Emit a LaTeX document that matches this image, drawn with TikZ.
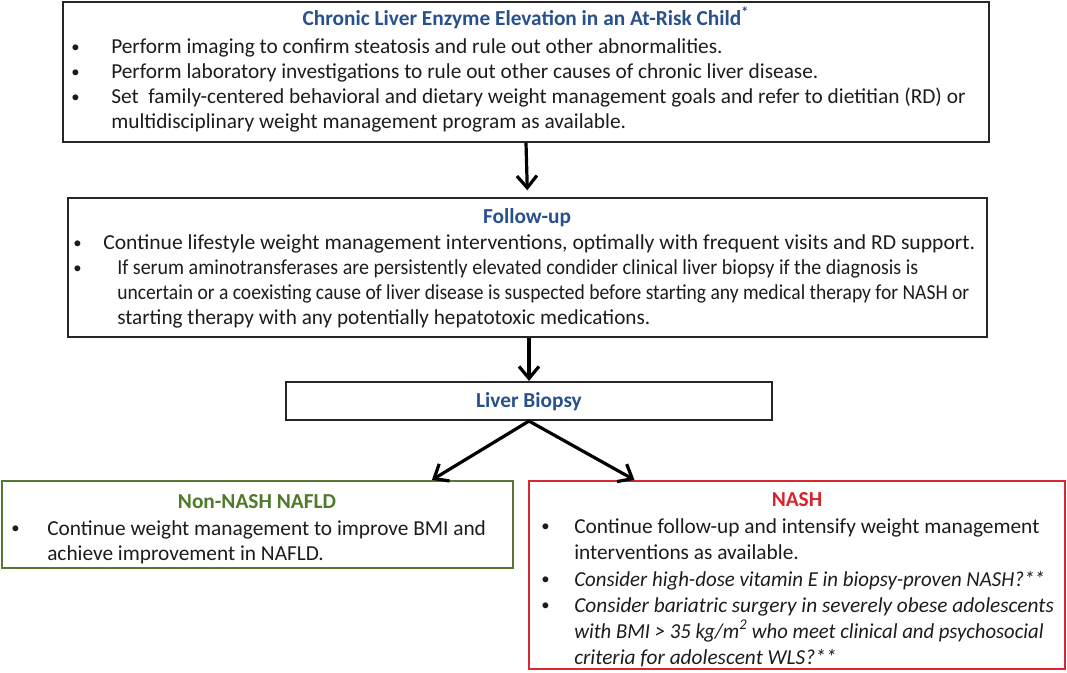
\documentclass[tikz,border=0pt]{standalone}
\usepackage{fontspec}
\usepackage{graphicx}
\setmainfont{Carlito}
\usetikzlibrary{arrows.meta,fit,calc}
\definecolor{ttlblue}{RGB}{40,80,140}
\definecolor{ttlgreen}{RGB}{80,122,42}
\definecolor{brdgreen}{RGB}{88,118,52}
\definecolor{ttlred}{RGB}{214,36,44}
\definecolor{brdred}{RGB}{216,40,48}
\definecolor{bodytext}{RGB}{28,28,28}
\newcommand\bodysize{\fontsize{16}{19}\selectfont}
\newcommand\bul{\raisebox{0.8pt}{\fontsize{12.5}{12}\selectfont\textbullet}}
\newcommand\fitline[2]{\resizebox{#1pt}{\height}{#2}}
\begin{document}
\begin{tikzpicture}[x=0.75pt,y=-0.75pt,
  box/.style={draw=black!85,line width=1.6pt,inner sep=0pt},
  txt/.style={anchor=base west,inner sep=0pt,text=bodytext,font=\bodysize},
  ttl/.style={anchor=base,inner sep=0pt,font=\bodysize\bfseries},
  arr/.style={line width=2.4pt,-{Straight Barb[length=9pt,width=15pt]}}]
\useasboundingbox (0,0) rectangle (1067,673);
% boxes
\coordinate (b1a) at (63,2); \coordinate (b1b) at (989,142);
\node[box,fit=(b1a)(b1b)] (b1) {};
\coordinate (b2a) at (68,198); \coordinate (b2b) at (987,337);
\node[box,fit=(b2a)(b2b)] (b2) {};
\coordinate (lba) at (286,382); \coordinate (lbb) at (772,420);
\node[box,fit=(lba)(lbb)] (lb) {};
\coordinate (nna) at (2,481); \coordinate (nnb) at (513,568);
\node[box,draw=brdgreen,fit=(nna)(nnb)] (nn) {};
\coordinate (nsa) at (529,481); \coordinate (nsb) at (1065,669);
\node[box,draw=brdred,fit=(nsa)(nsb)] (ns) {};
% box 1 text
\node[ttl,text=ttlblue] (t1) at (526,26) {Chronic Liver Enzyme Elevation in an At-Risk Child\textsuperscript{*}};
\node[txt] (b1p1) at (71,53.5) {\bul};
\node[txt] (b1p2) at (71,78.5) {\bul};
\node[txt] (b1p3) at (71,103.5) {\bul};
\node[txt] (b1l1) at (111,53.5) {Perform imaging to confirm steatosis and rule out other abnormalities.};
\node[txt] (b1l2) at (111,78.5) {Perform laboratory investigations to rule out other causes of chronic liver disease.};
\node[txt] (b1l3) at (111,103.5) {Set\ \ family-centered behavioral and dietary weight management goals and refer to dietitian (RD) or};
\node[txt] (b1l4) at (111,128.5) {multidisciplinary weight management program as available.};
% box 2 text
\node[ttl,text=ttlblue] (t2) at (527,224) {Follow-up};
\node[txt] (b2p1) at (73,250) {\bul};
\node[txt] (b2p2) at (73,275) {\bul};
\node[txt] (b2l1) at (103,250) {\fitline{654}{Continue lifestyle weight management interventions, optimally with frequent visits and RD support.}};
\node[txt] (b2l2) at (117,275) {\fitline{600.75}{If serum aminotransferases are persistently elevated condider clinical liver biopsy if the diagnosis is}};
\node[txt] (b2l3) at (117,300) {\fitline{639}{uncertain or a coexisting cause of liver disease is suspected before starting any medical therapy for NASH or}};
\node[txt] (b2l4) at (117,325) {\fitline{399.75}{starting therapy with any potentially\ hepatotoxic medications.}};
% liver biopsy
\node[ttl,text=ttlblue] (t3) at (529,407) {Liver Biopsy};
% non-NASH
\node[ttl,text=ttlgreen] (t4) at (257,508) {Non-NASH NAFLD};
\node[txt] (nnp1) at (11,535) {\bul};
\node[txt] (nnl1) at (47,535) {Continue weight management to improve BMI and};
\node[txt] (nnl2) at (47,560) {achieve improvement in NAFLD.};
% NASH
\node[ttl,text=ttlred] (t5) at (797,506) {NASH};
\node[txt] (nsp1) at (541,533) {\bul};
\node[txt] (nsp2) at (541,586) {\bul};
\node[txt] (nsp3) at (541,612) {\bul};
\node[txt] (nsl1) at (574,533) {Continue follow-up and intensify weight management};
\node[txt] (nsl2) at (574,559) {interventions as available.};
\node[txt] (nsl3) at (574,586) {\fitline{353}{\itshape Consider high-dose vitamin E in\ biopsy-proven NASH?**}};
\node[txt] (nsl4) at (574,612) {\itshape Consider bariatric surgery in severely obese adolescents};
\node[txt] (nsl5) at (574,638) {\fitline{352}{\itshape with BMI > 35 kg/m\textsuperscript{2}\ who meet clinical and psychosocial}};
\node[txt] (nsl6) at (574,664) {\itshape criteria for adolescent WLS?**};
% arrows
\draw[arr,shorten >=5pt] (b1.south) -- (b2.north);
\draw[arr] (b2.south -| lb.north) -- (lb.north);
\draw[arr] (lb.south) -- ($(nn.north west)!0.84!(nn.north east)$);
\draw[arr] (lb.south) -- ($(ns.north west)!0.198!(ns.north east)$);
\end{tikzpicture}
\end{document}
